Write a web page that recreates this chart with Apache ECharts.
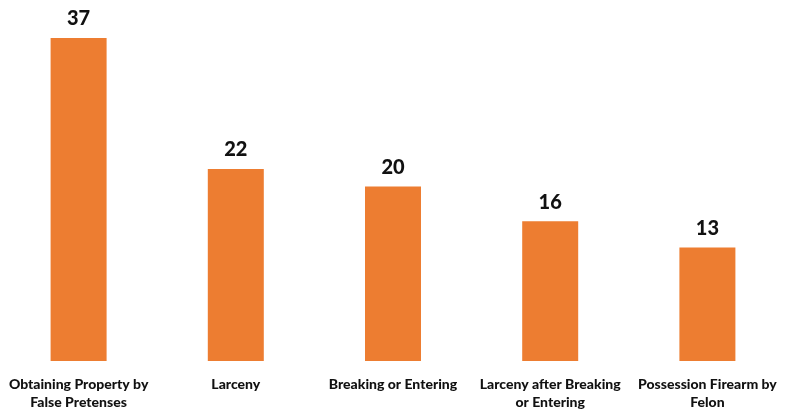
<!DOCTYPE html>
<html>
<head>
<meta charset="utf-8">
<script src="https://cdn.jsdelivr.net/npm/echarts@6/dist/echarts.min.js"></script>
<style>html,body{margin:0;padding:0;background:#fff}#c{width:793px;height:411px}</style>
</head>
<body>
<div id="c"></div>
<script>
const categories = [
  "Obtaining Property by\nFalse Pretenses",
  "Larceny",
  "Breaking or Entering",
  "Larceny after Breaking\nor Entering",
  "Possession Firearm by\nFelon"
];
const values = [37, 22, 20, 16, 13];

const chart = echarts.init(document.getElementById('c'), null, {renderer: 'canvas'});
chart.setOption({
  animation: false,
  grid: {left: 0, right: 7, top: 38, bottom: 45, containLabel: false},
  xAxis: {
    type: 'category',
    data: categories,
    axisLine: {show: false},
    axisTick: {show: false},
    axisLabel: {
      interval: 0,
      margin: 14,
      fontFamily: 'Lato',
      fontWeight: 900,
      fontSize: 14,
      lineHeight: 18,
      color: '#111'
    }
  },
  yAxis: {
    type: 'value', min: 0, max: 37,
    show: false,
    splitLine: {show: false}
  },
  series: [{
    type: 'bar',
    data: values,
    barWidth: 56,
    itemStyle: {color: '#ED7D31'},
    label: {
      show: true,
      position: 'top',
      distance: 9,
      fontFamily: 'Lato',
      fontWeight: 900,
      fontSize: 20,
      color: '#111'
    }
  }]
});
</script>
</body>
</html>
